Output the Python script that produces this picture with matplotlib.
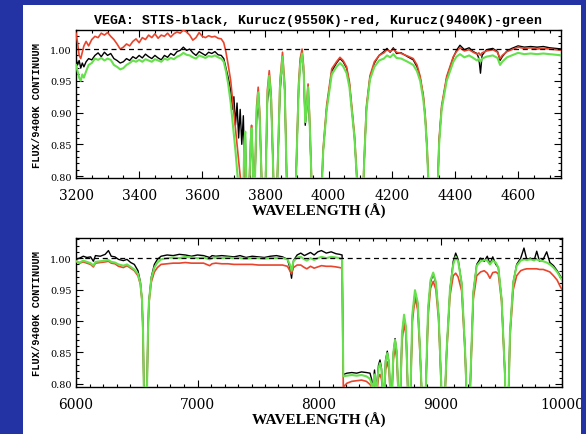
import matplotlib
matplotlib.use("Agg")
import matplotlib.pyplot as plt
from matplotlib.patches import Rectangle
from matplotlib.ticker import MultipleLocator

# ---------------- data: top panel (3200-4750 A) ----------------
wl_top = [3200, 3205, 3210, 3215, 3220, 3225, 3232, 3240, 3250, 3260,
          3270, 3280, 3290, 3300, 3310, 3320, 3330, 3340, 3350, 3360,
          3370, 3380, 3390, 3400, 3410, 3420, 3430, 3440, 3450, 3460,
          3470, 3480, 3490, 3500, 3510, 3520, 3530, 3540, 3550, 3560,
          3570, 3580, 3590, 3600, 3610, 3620, 3630, 3640, 3650, 3660,
          3668, 3675, 3682, 3690, 3695, 3700, 3705, 3710, 3715, 3720,
          3725, 3730, 3733, 3736, 3739, 3743, 3749, 3753, 3756, 3760,
          3763, 3767, 3772, 3777, 3782, 3788, 3797, 3801, 3806, 3812,
          3818, 3825, 3832, 3838, 3846, 3854, 3861, 3867, 3875, 3889,
          3897, 3905, 3910, 3916, 3921, 3926, 3930, 3935, 3940, 3946,
          3966, 3979, 3983, 3994, 4010, 4025, 4036, 4046, 4057, 4066,
          4073, 4082, 4089, 4100, 4111, 4115, 4120, 4131, 4145, 4160,
          4175, 4185, 4195, 4205, 4215, 4230, 4250, 4268, 4280, 4290,
          4300, 4306, 4312, 4316, 4330, 4346, 4350, 4358, 4374, 4395,
          4405, 4416, 4430, 4445, 4458, 4470, 4476, 4481, 4486, 4500,
          4520, 4535, 4543, 4550, 4565, 4580, 4600, 4620, 4640, 4660,
          4680, 4700, 4720, 4740, 4750]

stis_top = [0.985, 0.975, 0.982, 0.970, 0.978, 0.972, 0.980, 0.985, 0.983, 0.990,
            0.994, 0.988, 0.995, 0.990, 0.993, 0.985, 0.982, 0.978, 0.980, 0.985,
            0.982, 0.988, 0.985, 0.990, 0.986, 0.992, 0.988, 0.985, 0.990, 0.986,
            0.983, 0.990, 0.987, 0.993, 0.990, 0.996, 0.998, 1.003, 0.998, 1.000,
            0.994, 0.990, 0.996, 0.993, 0.990, 0.995, 0.993, 0.996, 0.991, 0.990,
            0.985, 0.970, 0.955, 0.935, 0.905, 0.925, 0.880, 0.915, 0.860, 0.905,
            0.850, 0.895, 0.830, 0.870, 0.800, 0.760, 0.790, 0.840, 0.860, 0.815,
            0.760, 0.800, 0.890, 0.920, 0.885, 0.790, 0.650, 0.800, 0.915, 0.950,
            0.915, 0.800, 0.650, 0.800, 0.930, 0.985, 0.935, 0.800, 0.650, 0.550,
            0.800, 0.935, 0.978, 0.995, 0.960, 0.880, 0.900, 0.935, 0.880, 0.790,
            0.500, 0.790, 0.840, 0.908, 0.965, 0.978, 0.985, 0.980, 0.970, 0.945,
            0.908, 0.860, 0.800, 0.500, 0.800, 0.850, 0.908, 0.955, 0.978, 0.990,
            0.996, 1.001, 0.995, 1.002, 0.993, 0.994, 0.988, 0.983, 0.972, 0.955,
            0.925, 0.892, 0.840, 0.790, 0.450, 0.790, 0.855, 0.908, 0.955, 0.987,
            0.998, 1.006, 0.999, 1.002, 0.996, 0.993, 0.985, 0.962, 0.990, 0.999,
            1.001, 0.996, 0.982, 0.988, 0.997, 1.001, 1.005, 1.003, 1.004, 1.003,
            1.004, 1.002, 1.001, 1.000, 1.000]

k9550_top = [1.025, 1.010, 0.990, 0.985, 0.995, 1.005, 1.012, 1.005, 1.015, 1.020,
             1.018, 1.025, 1.022, 1.026, 1.020, 1.015, 1.008, 1.000, 1.003, 1.008,
             1.005, 1.012, 1.016, 1.010, 1.018, 1.015, 1.022, 1.018, 1.024, 1.017,
             1.022, 1.020, 1.025, 1.019, 1.024, 1.027, 1.025, 1.030, 1.027, 1.022,
             1.014, 1.018, 1.026, 1.020, 1.018, 1.021, 1.019, 1.020, 1.017, 1.016,
             1.010, 0.995, 0.975, 0.950, 0.925, 0.900, 0.875, 0.850, 0.825, 0.800,
             0.780, 0.760, 0.800, 0.830, 0.780, 0.700, 0.790, 0.855, 0.880, 0.830,
             0.770, 0.805, 0.910, 0.940, 0.900, 0.795, 0.660, 0.805, 0.935, 0.966,
             0.930, 0.805, 0.650, 0.805, 0.950, 0.995, 0.945, 0.805, 0.650, 0.550,
             0.805, 0.945, 0.985, 1.000, 0.972, 0.892, 0.912, 0.945, 0.892, 0.795,
             0.500, 0.800, 0.845, 0.912, 0.969, 0.980, 0.987, 0.982, 0.972, 0.948,
             0.911, 0.865, 0.805, 0.500, 0.805, 0.855, 0.911, 0.958, 0.980, 0.990,
             0.994, 0.999, 0.996, 1.000, 0.995, 0.993, 0.989, 0.985, 0.975, 0.957,
             0.927, 0.895, 0.845, 0.795, 0.450, 0.795, 0.858, 0.911, 0.957, 0.988,
             0.996, 1.002, 0.997, 0.999, 0.995, 0.992, 0.994, 0.990, 0.994, 0.997,
             0.999, 0.995, 0.985, 0.990, 0.996, 0.999, 1.003, 1.001, 1.002, 1.000,
             1.001, 1.000, 0.999, 0.998, 0.998]

k9400_top = [0.975, 0.965, 0.955, 0.950, 0.960, 0.955, 0.965, 0.975, 0.978, 0.985,
             0.983, 0.986, 0.982, 0.985, 0.983, 0.975, 0.972, 0.968, 0.970, 0.975,
             0.978, 0.982, 0.980, 0.983, 0.980, 0.984, 0.982, 0.980, 0.984, 0.982,
             0.980, 0.985, 0.983, 0.986, 0.984, 0.988, 0.990, 0.994, 0.991, 0.990,
             0.987, 0.985, 0.990, 0.988, 0.986, 0.989, 0.988, 0.990, 0.987, 0.985,
             0.980, 0.965, 0.945, 0.915, 0.890, 0.865, 0.840, 0.810, 0.780, 0.740,
             0.720, 0.780, 0.850, 0.870, 0.800, 0.700, 0.790, 0.850, 0.875, 0.820,
             0.760, 0.800, 0.900, 0.932, 0.890, 0.790, 0.650, 0.800, 0.925, 0.958,
             0.920, 0.800, 0.650, 0.800, 0.940, 0.988, 0.935, 0.800, 0.650, 0.550,
             0.800, 0.935, 0.975, 0.993, 0.965, 0.885, 0.905, 0.940, 0.885, 0.790,
             0.500, 0.790, 0.840, 0.905, 0.960, 0.972, 0.978, 0.973, 0.962, 0.940,
             0.905, 0.860, 0.800, 0.500, 0.800, 0.850, 0.905, 0.952, 0.972, 0.982,
             0.985, 0.990, 0.987, 0.992, 0.986, 0.985, 0.980, 0.975, 0.965, 0.950,
             0.920, 0.890, 0.840, 0.790, 0.450, 0.790, 0.850, 0.905, 0.950, 0.980,
             0.988, 0.992, 0.987, 0.990, 0.986, 0.982, 0.985, 0.980, 0.985, 0.988,
             0.990, 0.986, 0.975, 0.980, 0.987, 0.990, 0.994, 0.992, 0.993, 0.992,
             0.993, 0.992, 0.991, 0.990, 0.990]

# ---------------- data: bottom panel (6000-10000 A) ----------------
wl_bot = [6000, 6030, 6060, 6090, 6120, 6143, 6160, 6200, 6240, 6267,
          6290, 6320, 6350, 6390, 6420, 6450, 6480, 6510, 6530, 6543,
          6552, 6558, 6570, 6585, 6592, 6600, 6620, 6645, 6670, 6700,
          6750, 6800, 6850, 6900, 6950, 7000, 7050, 7100, 7120, 7150,
          7200, 7250, 7300, 7350, 7400, 7450, 7500, 7550, 7600, 7650,
          7700, 7740, 7760, 7774, 7790, 7820, 7850, 7880, 7900, 7930,
          7960, 7990, 8020, 8060, 8100, 8140, 8170, 8190, 8200, 8230,
          8270, 8310, 8350, 8390, 8420, 8432, 8440, 8448, 8457, 8466,
          8472, 8478, 8490, 8502, 8514, 8522, 8532, 8540, 8548, 8562,
          8576, 8584, 8594, 8603, 8612, 8626, 8640, 8650, 8663, 8672,
          8683, 8700, 8716, 8730, 8745, 8755, 8768, 8790, 8812, 8830,
          8843, 8863, 8880, 8898, 8918, 8940, 8962, 8985, 9005, 9022,
          9040, 9051, 9078, 9105, 9125, 9145, 9174, 9202, 9212, 9228,
          9245, 9270, 9298, 9330, 9360, 9385, 9407, 9430, 9455, 9476,
          9503, 9531, 9548, 9562, 9572, 9599, 9627, 9660, 9687, 9710,
          9740, 9770, 9792, 9815, 9845, 9874, 9900, 9930, 9960, 9985,
          10000]

stis_bot = [0.998, 1.000, 1.003, 1.001, 1.002, 0.995, 1.004, 1.003, 1.006, 1.012,
            1.003, 1.002, 0.998, 0.996, 0.998, 0.993, 0.990, 0.980, 0.962, 0.935,
            0.880, 0.800, 0.600, 0.800, 0.880, 0.932, 0.970, 0.990, 0.998, 1.003,
            1.005, 1.004, 1.006, 1.005, 1.003, 1.005, 1.004, 1.001, 1.004, 1.003,
            1.004, 1.003, 1.002, 1.004, 1.001, 1.003, 1.002, 1.001, 1.003, 1.004,
            1.002, 0.998, 0.985, 0.968, 0.996, 1.005, 1.008, 1.004, 1.006, 1.009,
            1.005, 1.010, 1.012, 1.008, 1.010, 1.007, 1.006, 1.005, 0.815, 0.817,
            0.818, 0.817, 0.819, 0.818, 0.817, 0.808, 0.790, 0.805, 0.822, 0.800,
            0.785, 0.805, 0.830, 0.838, 0.825, 0.800, 0.750, 0.800, 0.838, 0.852,
            0.833, 0.800, 0.740, 0.800, 0.848, 0.872, 0.850, 0.800, 0.720, 0.800,
            0.878, 0.905, 0.888, 0.800, 0.700, 0.800, 0.905, 0.945, 0.928, 0.860,
            0.800, 0.650, 0.800, 0.918, 0.962, 0.975, 0.960, 0.908, 0.805, 0.620,
            0.800, 0.855, 0.950, 0.995, 1.008, 0.998, 0.960, 0.855, 0.800, 0.600,
            0.800, 0.945, 0.990, 1.000, 0.995, 1.003, 0.990, 1.002, 0.990, 0.985,
            0.935, 0.813, 0.600, 0.800, 0.882, 0.962, 0.990, 1.000, 1.016, 0.998,
            1.000, 0.996, 1.011, 0.995, 0.998, 1.010, 0.993, 0.988, 0.980, 0.972,
            0.966]

k9550_bot = [0.995, 0.992, 0.994, 0.992, 0.990, 0.986, 0.992, 0.993, 0.994, 0.995,
             0.992, 0.991, 0.987, 0.985, 0.988, 0.984, 0.980, 0.972, 0.958, 0.932,
             0.878, 0.800, 0.600, 0.800, 0.878, 0.928, 0.962, 0.978, 0.985, 0.990,
             0.991, 0.992, 0.992, 0.993, 0.992, 0.992, 0.992, 0.988, 0.991, 0.992,
             0.991, 0.991, 0.990, 0.990, 0.990, 0.990, 0.989, 0.989, 0.989, 0.989,
             0.989, 0.987, 0.980, 0.975, 0.985, 0.989, 0.989, 0.985, 0.983, 0.987,
             0.984, 0.986, 0.988, 0.987, 0.987, 0.986, 0.985, 0.984, 0.795, 0.801,
             0.804, 0.805, 0.806, 0.804, 0.799, 0.795, 0.780, 0.795, 0.800, 0.785,
             0.775, 0.790, 0.810, 0.815, 0.808, 0.795, 0.750, 0.795, 0.822, 0.835,
             0.822, 0.795, 0.740, 0.795, 0.838, 0.858, 0.840, 0.795, 0.720, 0.795,
             0.868, 0.895, 0.878, 0.795, 0.700, 0.795, 0.898, 0.937, 0.918, 0.852,
             0.795, 0.650, 0.795, 0.908, 0.952, 0.963, 0.950, 0.900, 0.800, 0.620,
             0.795, 0.850, 0.940, 0.972, 0.976, 0.970, 0.948, 0.850, 0.795, 0.600,
             0.795, 0.935, 0.972, 0.978, 0.980, 0.976, 0.968, 0.977, 0.978, 0.975,
             0.930, 0.810, 0.600, 0.795, 0.875, 0.950, 0.972, 0.980, 0.982, 0.983,
             0.983, 0.983, 0.983, 0.982, 0.982, 0.980, 0.978, 0.972, 0.965, 0.955,
             0.950]

k9400_bot = [0.995, 0.993, 0.996, 0.994, 0.992, 0.988, 0.994, 0.995, 0.996, 0.997,
             0.994, 0.993, 0.990, 0.988, 0.990, 0.986, 0.982, 0.975, 0.960, 0.935,
             0.880, 0.800, 0.600, 0.800, 0.880, 0.930, 0.968, 0.985, 0.993, 0.998,
             1.000, 1.001, 1.000, 1.002, 1.001, 1.000, 1.001, 0.998, 1.000, 1.001,
             1.000, 1.001, 1.000, 1.000, 0.999, 1.000, 1.000, 0.999, 1.000, 1.000,
             1.000, 0.998, 0.990, 0.980, 0.995, 1.001, 1.002, 0.998, 0.996, 1.000,
             0.997, 1.000, 1.002, 1.000, 1.002, 1.001, 1.000, 0.998, 0.812, 0.813,
             0.814, 0.813, 0.814, 0.812, 0.808, 0.800, 0.780, 0.800, 0.815, 0.795,
             0.780, 0.800, 0.825, 0.833, 0.822, 0.800, 0.750, 0.800, 0.835, 0.849,
             0.835, 0.800, 0.740, 0.800, 0.850, 0.870, 0.852, 0.800, 0.720, 0.800,
             0.880, 0.910, 0.890, 0.800, 0.700, 0.800, 0.910, 0.949, 0.930, 0.860,
             0.800, 0.650, 0.800, 0.920, 0.965, 0.977, 0.962, 0.908, 0.805, 0.620,
             0.800, 0.855, 0.950, 0.990, 1.002, 0.995, 0.961, 0.855, 0.800, 0.600,
             0.800, 0.946, 0.988, 0.995, 0.997, 0.996, 0.990, 0.996, 0.993, 0.985,
             0.935, 0.813, 0.600, 0.800, 0.882, 0.962, 0.988, 0.996, 0.998, 0.997,
             0.998, 0.997, 0.998, 0.996, 0.995, 0.993, 0.990, 0.985, 0.978, 0.970,
             0.965]

for arr in (stis_top, k9550_top, k9400_top):
    assert len(arr) == len(wl_top), len(arr)
for arr in (stis_bot, k9550_bot, k9400_bot):
    assert len(arr) == len(wl_bot), len(arr)

title_text = "VEGA: STIS-black, Kurucz(9550K)-red, Kurucz(9400K)-green"
xlabel_text = "WAVELENGTH (Å)"
ylabel_text = "FLUX/9400K CONTINUUM"

BLUE = "#2433a4"
RED = "#e8452c"
GREEN = "#66e04c"

W, H = 586, 435
fig = plt.figure(figsize=(W / 100, H / 100), dpi=100)
fig.patch.set_facecolor(BLUE)
fig.patches.append(Rectangle((23 / W, 0), 558 / W, 1 - 6 / H, transform=fig.transFigure,
                             facecolor="white", edgecolor="none", zorder=-10))
# blue margin drawn on top (clips the right-most tick label like the original)
fig.patches.append(Rectangle((581 / W, 0), 5 / W, 1, transform=fig.transFigure,
                             facecolor=BLUE, edgecolor="none", zorder=50))

def make_axes(rect, wl, b, r, g, xlim, ylim, xminor, xticks):
    ax = fig.add_axes(rect)
    ax.plot(wl, b, color="black", lw=1.0, zorder=2)
    ax.plot(wl, r, color=RED, lw=1.2, zorder=3)
    ax.plot(wl, g, color=GREEN, lw=1.5, zorder=4)
    ax.axhline(1.0, color="black", lw=0.9, ls=(0, (4, 3)), zorder=5)
    ax.set_xlim(*xlim)
    ax.set_ylim(*ylim)
    ax.set_xticks(xticks)
    ax.xaxis.set_minor_locator(MultipleLocator(xminor))
    ax.set_yticks([0.80, 0.85, 0.90, 0.95, 1.00])
    ax.yaxis.set_minor_locator(MultipleLocator(0.01))
    ax.set_yticklabels(["0.80", "0.85", "0.90", "0.95", "1.00"],
                       fontfamily="DejaVu Serif", fontsize=7)
    ax.set_xticklabels([str(t) for t in xticks], fontfamily="DejaVu Serif", fontsize=10)
    ax.tick_params(which="both", direction="in", top=True, right=True, width=0.8)
    ax.tick_params(which="major", length=5)
    ax.tick_params(which="minor", length=2.5)
    ax.tick_params(axis="x", pad=7)
    ax.tick_params(axis="y", pad=3)
    for s in ax.spines.values():
        s.set_linewidth(1.0)
    ax.set_xlabel(xlabel_text, fontfamily="Liberation Serif", fontsize=11,
                  fontweight="bold", labelpad=1)
    ax.set_ylabel(ylabel_text, fontfamily="Liberation Mono", fontsize=7.5,
                  fontweight="bold", labelpad=6)
    return ax

ax1 = make_axes([76 / W, 1 - 179 / H, 485 / W, 148 / H], wl_top, stis_top, k9550_top,
                k9400_top, (3200, 4736), (0.797, 1.030), 50,
                [3200, 3400, 3600, 3800, 4000, 4200, 4400, 4600])
ax1.set_title(title_text, fontfamily="Liberation Mono", fontsize=9.5, fontweight="bold", pad=5)

ax2 = make_axes([76 / W, 1 - 388 / H, 486 / W, 149 / H], wl_bot, stis_bot, k9550_bot,
                k9400_bot, (6000, 10000), (0.795, 1.032), 1000 / 9,
                [6000, 7000, 8000, 9000, 10000])

fig.savefig("out.png", dpi=100, facecolor=BLUE)
